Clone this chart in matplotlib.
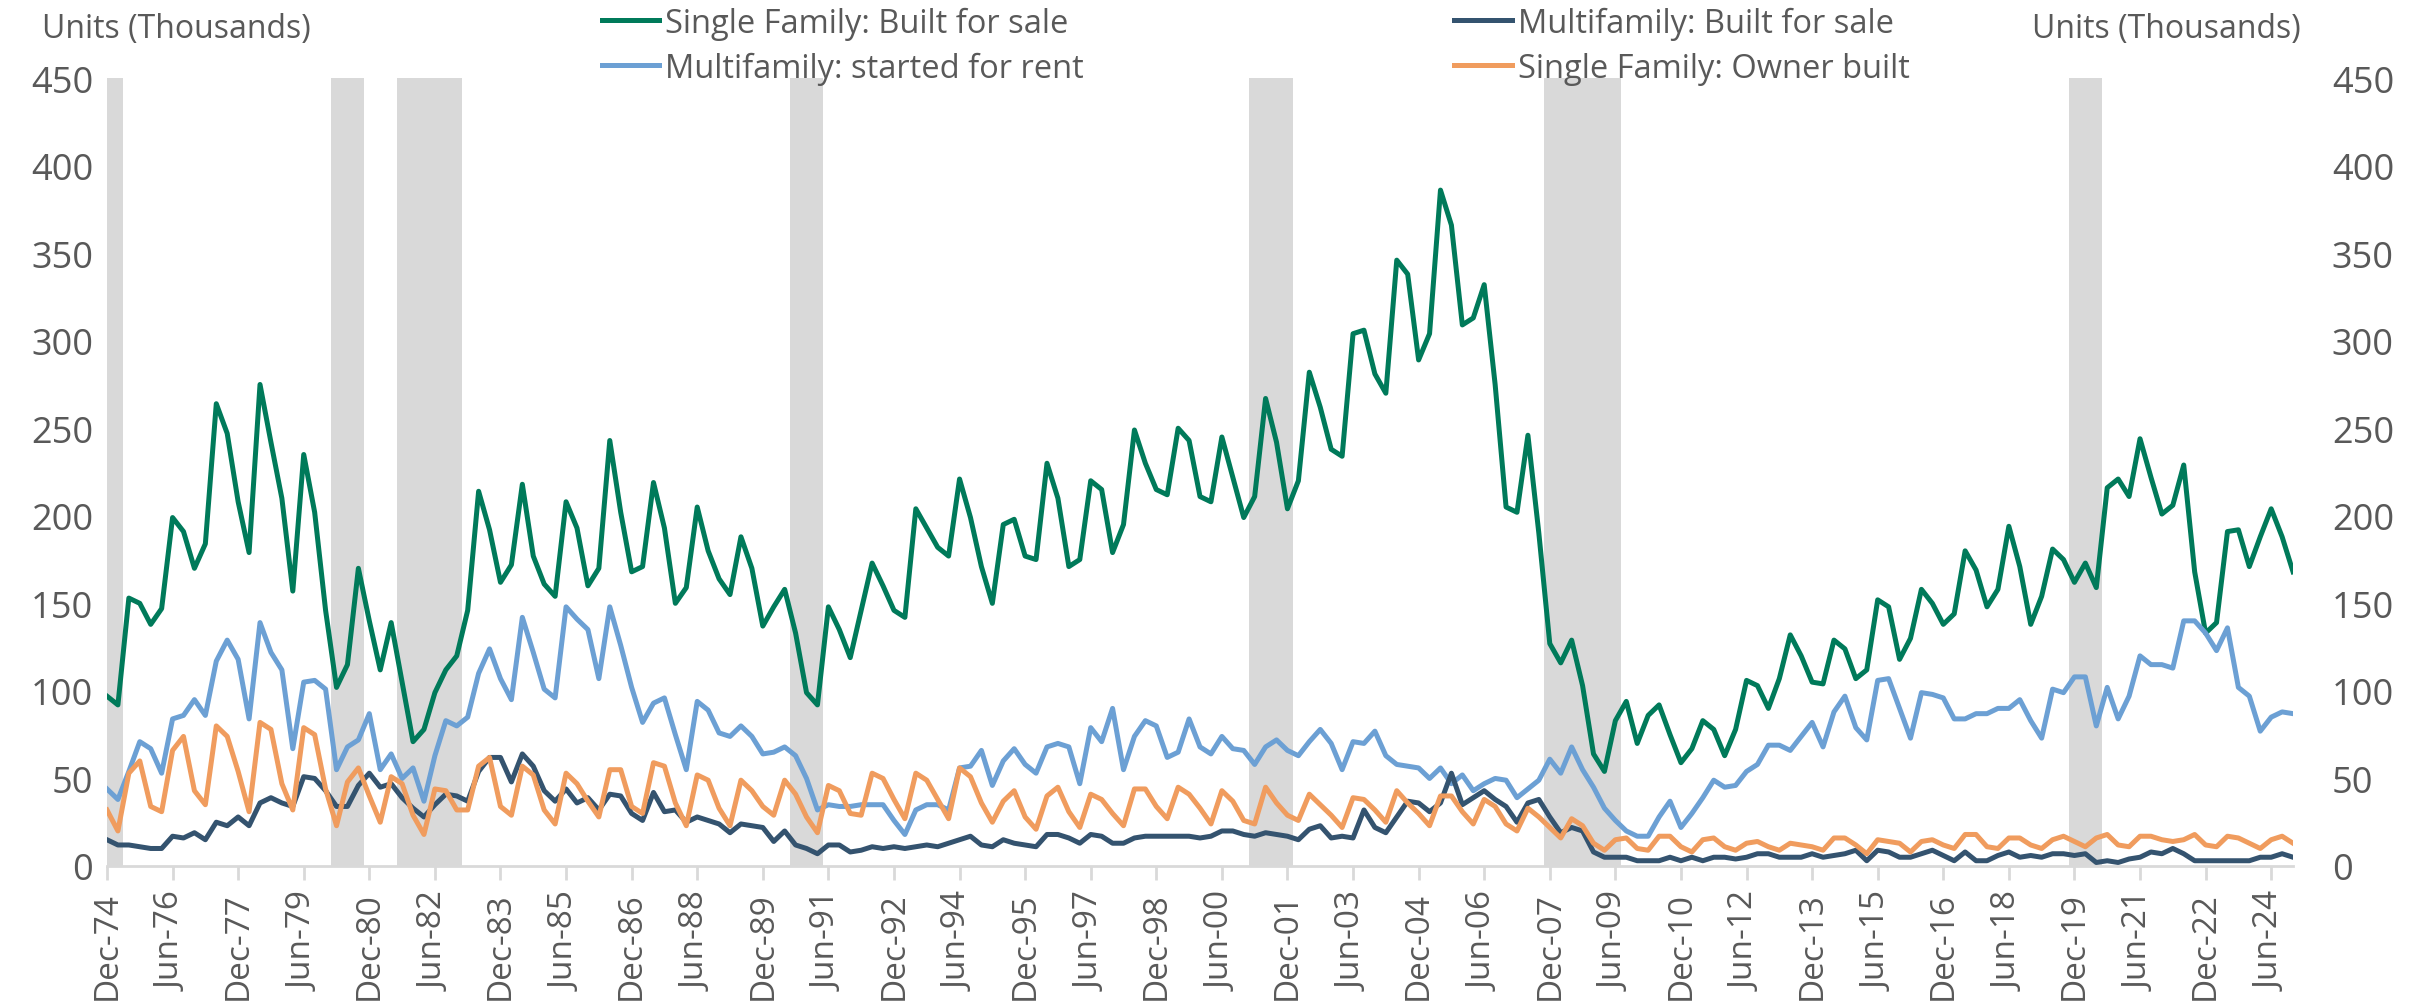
import numpy as np
import pandas as pd
import matplotlib
matplotlib.use("Agg")
import matplotlib.pyplot as plt

plt.rcParams["font.family"] = ["Open Sans", "DejaVu Sans"]

# quarterly categories, Dec-74 .. Dec-24
quarters = pd.date_range("1974-12-31", "2024-12-31", freq="QE")
quarter_labels = [d.strftime("%b-%y") for d in quarters]

sf_built_for_sale = [
    97, 92, 153, 150, 138, 147, 199, 191, 170, 184,
    264, 247, 208, 179, 275, 242, 210, 157, 235, 202,
    146, 102, 115, 170, 140, 112, 139, 105, 71, 78,
    99, 112, 120, 146, 214, 192, 162, 172, 218, 177,
    161, 154, 208, 193, 160, 170, 243, 202, 168, 171,
    219, 193, 150, 159, 205, 180, 164, 155, 188, 170,
    137, 148, 158, 133, 99, 92, 148, 135, 119, 146,
    173, 160, 146, 142, 204, 193, 182, 177, 221, 199,
    171, 150, 195, 198, 177, 175, 230, 210, 171, 175,
    220, 215, 179, 195, 249, 230, 215, 212, 250, 243,
    211, 208, 245, 222, 199, 211, 267, 242, 204, 220,
    282, 262, 238, 234, 304, 306, 281, 270, 346, 338,
    289, 304, 386, 366, 309, 313, 332, 275, 205, 202,
    246, 190, 127, 116, 129, 103, 64, 54, 83, 94,
    70, 86, 92, 75, 59, 67, 83, 78, 63, 78,
    106, 103, 90, 107, 132, 120, 105, 104, 129, 124,
    107, 112, 152, 148, 118, 130, 158, 150, 138, 144,
    180, 169, 148, 158, 194, 171, 138, 154, 181, 175,
    162, 173, 159, 216, 221, 211, 244, 222, 201, 206,
    229, 168, 133, 139, 191, 192, 171, 188, 204, 188, 168,
]

mf_started_for_rent = [
    44, 38, 54, 71, 67, 53, 84, 86, 95, 86,
    117, 129, 118, 84, 139, 122, 112, 67, 105, 106,
    101, 55, 68, 72, 87, 55, 64, 50, 56, 37,
    63, 83, 80, 85, 110, 124, 107, 95, 142, 122,
    101, 96, 148, 141, 135, 107, 148, 126, 102, 82,
    93, 96, 75, 55, 94, 89, 76, 74, 80, 74,
    64, 65, 68, 63, 50, 32, 35, 34, 34, 35,
    35, 35, 26, 18, 32, 35, 35, 32, 56, 57,
    66, 46, 60, 67, 58, 53, 68, 70, 68, 47,
    79, 71, 90, 55, 74, 83, 80, 62, 65, 84,
    68, 64, 74, 67, 66, 58, 68, 72, 66, 63,
    71, 78, 70, 55, 71, 70, 77, 63, 58, 57,
    56, 50, 56, 47, 52, 43, 47, 50, 49, 39,
    44, 49, 61, 53, 68, 55, 45, 33, 26, 20,
    17, 17, 28, 37, 22, 30, 39, 49, 45, 46,
    54, 58, 69, 69, 66, 74, 82, 68, 88, 97,
    79, 72, 106, 107, 90, 73, 99, 98, 96, 84,
    84, 87, 87, 90, 90, 95, 83, 73, 101, 99,
    108, 108, 80, 102, 84, 97, 120, 115, 115, 113,
    140, 140, 133, 123, 136, 102, 97, 77, 85, 88, 87,
]

mf_built_for_sale = [
    15, 12, 12, 11, 10, 10, 17, 16, 19, 15,
    25, 23, 28, 23, 36, 39, 36, 34, 51, 50,
    43, 34, 34, 46, 53, 45, 47, 39, 33, 28,
    35, 41, 40, 37, 54, 62, 62, 48, 64, 57,
    43, 37, 44, 36, 39, 32, 41, 40, 30, 26,
    42, 31, 32, 25, 28, 26, 24, 19, 24, 23,
    22, 14, 20, 12, 10, 7, 12, 12, 8, 9,
    11, 10, 11, 10, 11, 12, 11, 13, 15, 17,
    12, 11, 15, 13, 12, 11, 18, 18, 16, 13,
    18, 17, 13, 13, 16, 17, 17, 17, 17, 17,
    16, 17, 20, 20, 18, 17, 19, 18, 17, 15,
    21, 23, 16, 17, 16, 32, 22, 19, 28, 37,
    36, 31, 36, 53, 35, 39, 43, 38, 34, 25,
    36, 38, 28, 19, 22, 20, 8, 5, 5, 5,
    3, 3, 3, 5, 3, 5, 3, 5, 5, 4,
    5, 7, 7, 5, 5, 5, 7, 5, 6, 7,
    9, 3, 9, 8, 5, 5, 7, 9, 6, 3,
    8, 3, 3, 6, 8, 5, 6, 5, 7, 7,
    6, 7, 2, 3, 2, 4, 5, 8, 7, 10,
    7, 3, 3, 3, 3, 3, 3, 5, 5, 7, 5,
]

sf_owner_built = [
    32, 20, 53, 60, 34, 31, 66, 74, 43, 35,
    80, 74, 54, 31, 82, 78, 47, 32, 79, 75,
    44, 23, 48, 56, 40, 25, 51, 47, 29, 18,
    44, 43, 32, 32, 57, 62, 34, 29, 57, 52,
    32, 24, 53, 47, 37, 28, 55, 55, 34, 30,
    59, 57, 36, 23, 52, 49, 33, 23, 49, 43,
    34, 29, 49, 41, 28, 19, 46, 43, 30, 29,
    53, 50, 38, 27, 53, 49, 38, 27, 56, 51,
    36, 25, 37, 43, 28, 21, 40, 45, 31, 22,
    41, 38, 30, 23, 44, 44, 34, 27, 45, 41,
    33, 24, 43, 37, 26, 24, 45, 36, 29, 26,
    41, 35, 29, 22, 39, 38, 32, 25, 43, 36,
    30, 23, 40, 40, 31, 24, 38, 34, 24, 20,
    33, 28, 22, 16, 27, 23, 13, 9, 15, 16,
    10, 9, 17, 17, 11, 8, 15, 16, 11, 9,
    13, 14, 11, 9, 13, 12, 11, 9, 16, 16,
    12, 7, 15, 14, 13, 8, 14, 15, 12, 10,
    18, 18, 11, 10, 16, 16, 12, 10, 15, 17,
    14, 11, 16, 18, 12, 11, 17, 17, 15, 14,
    15, 18, 12, 11, 17, 16, 13, 10, 15, 17, 13,
]

# recession quarters (first, last)
recessions = [
    ("Dec-74", "Mar-75"), ("Mar-80", "Sep-80"), ("Sep-81", "Dec-82"),
    ("Sep-90", "Mar-91"), ("Mar-01", "Dec-01"), ("Dec-07", "Jun-09"),
    ("Dec-19", "Jun-20"),
]

series = [
    ("Single Family: Built for sale", sf_built_for_sale, "#007A5A"),
    ("Multifamily: started for rent", mf_started_for_rent, "#6CA0D4"),
    ("Multifamily: Built for sale", mf_built_for_sale, "#34536F"),
    ("Single Family: Owner built", sf_owner_built, "#F09C5E"),
]

text_color = "#595959"
grey = "#D9D9D9"

fig = plt.figure(figsize=(24.15, 10.03), dpi=100)
ax = fig.add_axes([0.0443, 0.1356, 0.9052, 0.7856])
x = np.arange(len(quarter_labels))

# recession shading as full-height columns
for start, end in recessions:
    i0 = quarter_labels.index(start)
    i1 = quarter_labels.index(end)
    idx = np.arange(i0, i1 + 1)
    ax.bar(idx, [450] * len(idx), width=1.0, color=grey, linewidth=0, zorder=0)

handles = []
for name, vals, color in series:
    h, = ax.plot(x, vals, color=color, lw=3.6, label=name, zorder=3,
                 solid_joinstyle="round")
    handles.append(h)

ax.set_xlim(0, len(x) - 1)
ax.set_ylim(0, 450)
ax.set_yticks(range(0, 451, 50))
ax.set_xticks(x[::6])
ax.set_xticklabels(quarter_labels[::6], rotation=90)
ax.tick_params(axis="x", colors=grey, length=10, width=2, labelsize=24,
               labelcolor=text_color, pad=8)
ax.tick_params(axis="y", length=0, labelsize=26, labelcolor=text_color, pad=10)
for side in ["top", "right", "left"]:
    ax.spines[side].set_visible(False)
ax.spines["bottom"].set_color(grey)
ax.spines["bottom"].set_linewidth(2)
ax.spines["bottom"].set_zorder(1)

ax2 = ax.twinx()
ax2.set_ylim(0, 450)
ax2.set_yticks(range(0, 451, 50))
ax2.tick_params(axis="y", length=0, labelsize=26, labelcolor=text_color, pad=28)
for side in ["top", "right", "left", "bottom"]:
    ax2.spines[side].set_visible(False)

fig.text(42 / 2415, 1 - 30 / 1003, "Units (Thousands)", fontsize=23,
         color=text_color, va="center", ha="left")
fig.text(2301 / 2415, 1 - 30 / 1003, "Units (Thousands)", fontsize=23,
         color=text_color, va="center", ha="right")

fig.legend(handles=handles, ncol=2, loc="upper left",
           bbox_to_anchor=(600 / 2415, 1 - 6 / 1003), frameon=False,
           fontsize=23.5, labelcolor=text_color, handlelength=1.75,
           handletextpad=0.2, columnspacing=11.35, labelspacing=0.36,
           borderaxespad=0, borderpad=0.05)

fig.savefig("out.png", dpi=100)
